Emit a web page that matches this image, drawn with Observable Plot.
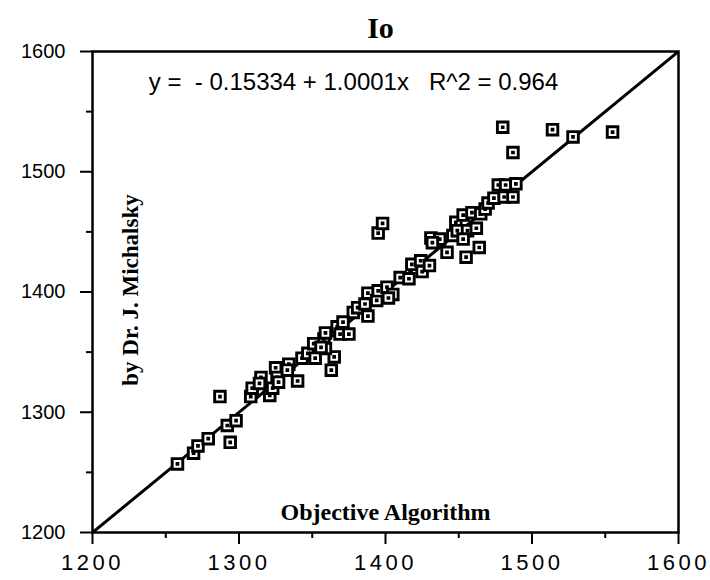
<!DOCTYPE html>
<html><head><meta charset="utf-8">
<script src="https://cdn.jsdelivr.net/npm/d3@7"></script>
<script src="https://cdn.jsdelivr.net/npm/@observablehq/plot@0.6"></script>
<style>
body{margin:0;background:#fff}
g[aria-label="x-axis tick label"] text{letter-spacing:3.5px}
</style>
</head><body><div id="chart"></div>
<script>
// Objective Algorithm (x) vs Dr. J. Michalsky (y)
const objective = [1258,1269,1272,1279,1294,1292,1298,1287,1308,1309,1315,1314,1321,1323,1325,1326,1327,1334,1333,1340,
  1343,1347,1352,1351,1358,1363,1365,1359,1359,1367,1369,1375,1378,1381,1388,1386,1388,1394,1395,1401,
  1405,1402,1410,1416,1418,1424,1425,1430,1431,1437,1442,1446,1448,1449,1453,1456,1455,1453,1459,1462,
  1465,1464,1468,1470,1474,1481,1487,1477,1482,1489,1487,1480,1514,1528,1555,1395,1398,1371,1356,1432];
const michalsky = [1257,1266,1272,1278,1275,1289,1293,1313,1313,1320,1329,1324,1314,1320,1337,1329,1325,1340,1335,1326,
  1345,1349,1345,1357,1361,1335,1346,1353,1366,1371,1365,1365,1383,1387,1380,1390,1399,1393,1401,1404,
  1398,1395,1412,1411,1423,1426,1417,1422,1445,1444,1433,1447,1458,1451,1464,1451,1429,1444,1466,1453,
  1465,1437,1469,1474,1478,1479,1479,1489,1489,1490,1516,1537,1535,1529,1533,1449,1457,1375,1354,1441];
const domain = [1200, 1600];
const majorTicks = [1200, 1300, 1400, 1500, 1600];
const minorTicks = [1250, 1350, 1450, 1550];
const fitIntercept = -0.15334;
const fitSlope = 1.0001;
const titleText = "Io";
const equationText = "y =  - 0.15334 + 1.0001x   R^2 = 0.964";
const xLabelText = "Objective Algorithm";
const yLabelText = "by Dr. J. Michalsky";

const data = objective.map((x, i) => ({x, y: michalsky[i]}));
const fitLine = domain.map(x => ({x, y: fitIntercept + fitSlope * x}));

const boxDot = {
  draw(ctx) {
    const s = 5.3;
    ctx.moveTo(-s, -s); ctx.lineTo(s, -s); ctx.lineTo(s, s); ctx.lineTo(-s, s); ctx.closePath();
    const d = 0.4;
    ctx.moveTo(-d, -d); ctx.lineTo(d, -d); ctx.lineTo(d, d); ctx.lineTo(-d, d); ctx.closePath();
  }
};

const serif = "'Liberation Serif', 'Times New Roman', serif";
const chart = Plot.plot({
  width: 710, height: 580,
  marginLeft: 92, marginRight: 32, marginTop: 51, marginBottom: 48,
  x: {domain, label: null},
  y: {domain, label: null},
  style: {fontFamily: "'Liberation Sans', Arial, sans-serif", background: "white", color: "black"},
  marks: [
    Plot.axisX({ticks: majorTicks, tickSize: 12, tickPadding: 10, strokeWidth: 2, fontSize: 22, tickFormat: d => String(d)}),
    Plot.axisX({ticks: minorTicks, tickSize: 6, strokeWidth: 2, tickFormat: () => ""}),
    Plot.axisY({ticks: majorTicks, tickSize: 12, tickPadding: 15, strokeWidth: 2, fontSize: 20, tickFormat: d => String(d)}),
    Plot.axisY({ticks: minorTicks, tickSize: 6, strokeWidth: 2, tickFormat: () => ""}),
    Plot.line(fitLine, {x: "x", y: "y", stroke: "black", strokeWidth: 3, clip: true}),
    Plot.dot(data, {x: "x", y: "y", symbol: boxDot, fill: "white", stroke: "black", strokeWidth: 2.9}),
    Plot.frame({stroke: "black", strokeWidth: 2.5}),
    Plot.text([titleText], {frameAnchor: "top", dx: -5, dy: -23, fontSize: 30, fontWeight: "bold", fontFamily: serif, lineAnchor: "middle"}),
    Plot.text([equationText], {frameAnchor: "top", dx: -32, dy: 31, fontSize: 24, lineAnchor: "middle"}),
    Plot.text([xLabelText], {frameAnchor: "bottom", dy: -20, fontSize: 24, fontWeight: "bold", fontFamily: serif, lineAnchor: "middle"}),
    Plot.text([yLabelText], {frameAnchor: "left", dx: 38, dy: -2, rotate: -90, textAnchor: "middle", fontSize: 23, fontWeight: "bold", fontFamily: serif, lineAnchor: "middle"})
  ]
});
document.getElementById("chart").appendChild(chart);
</script>
</body></html>
